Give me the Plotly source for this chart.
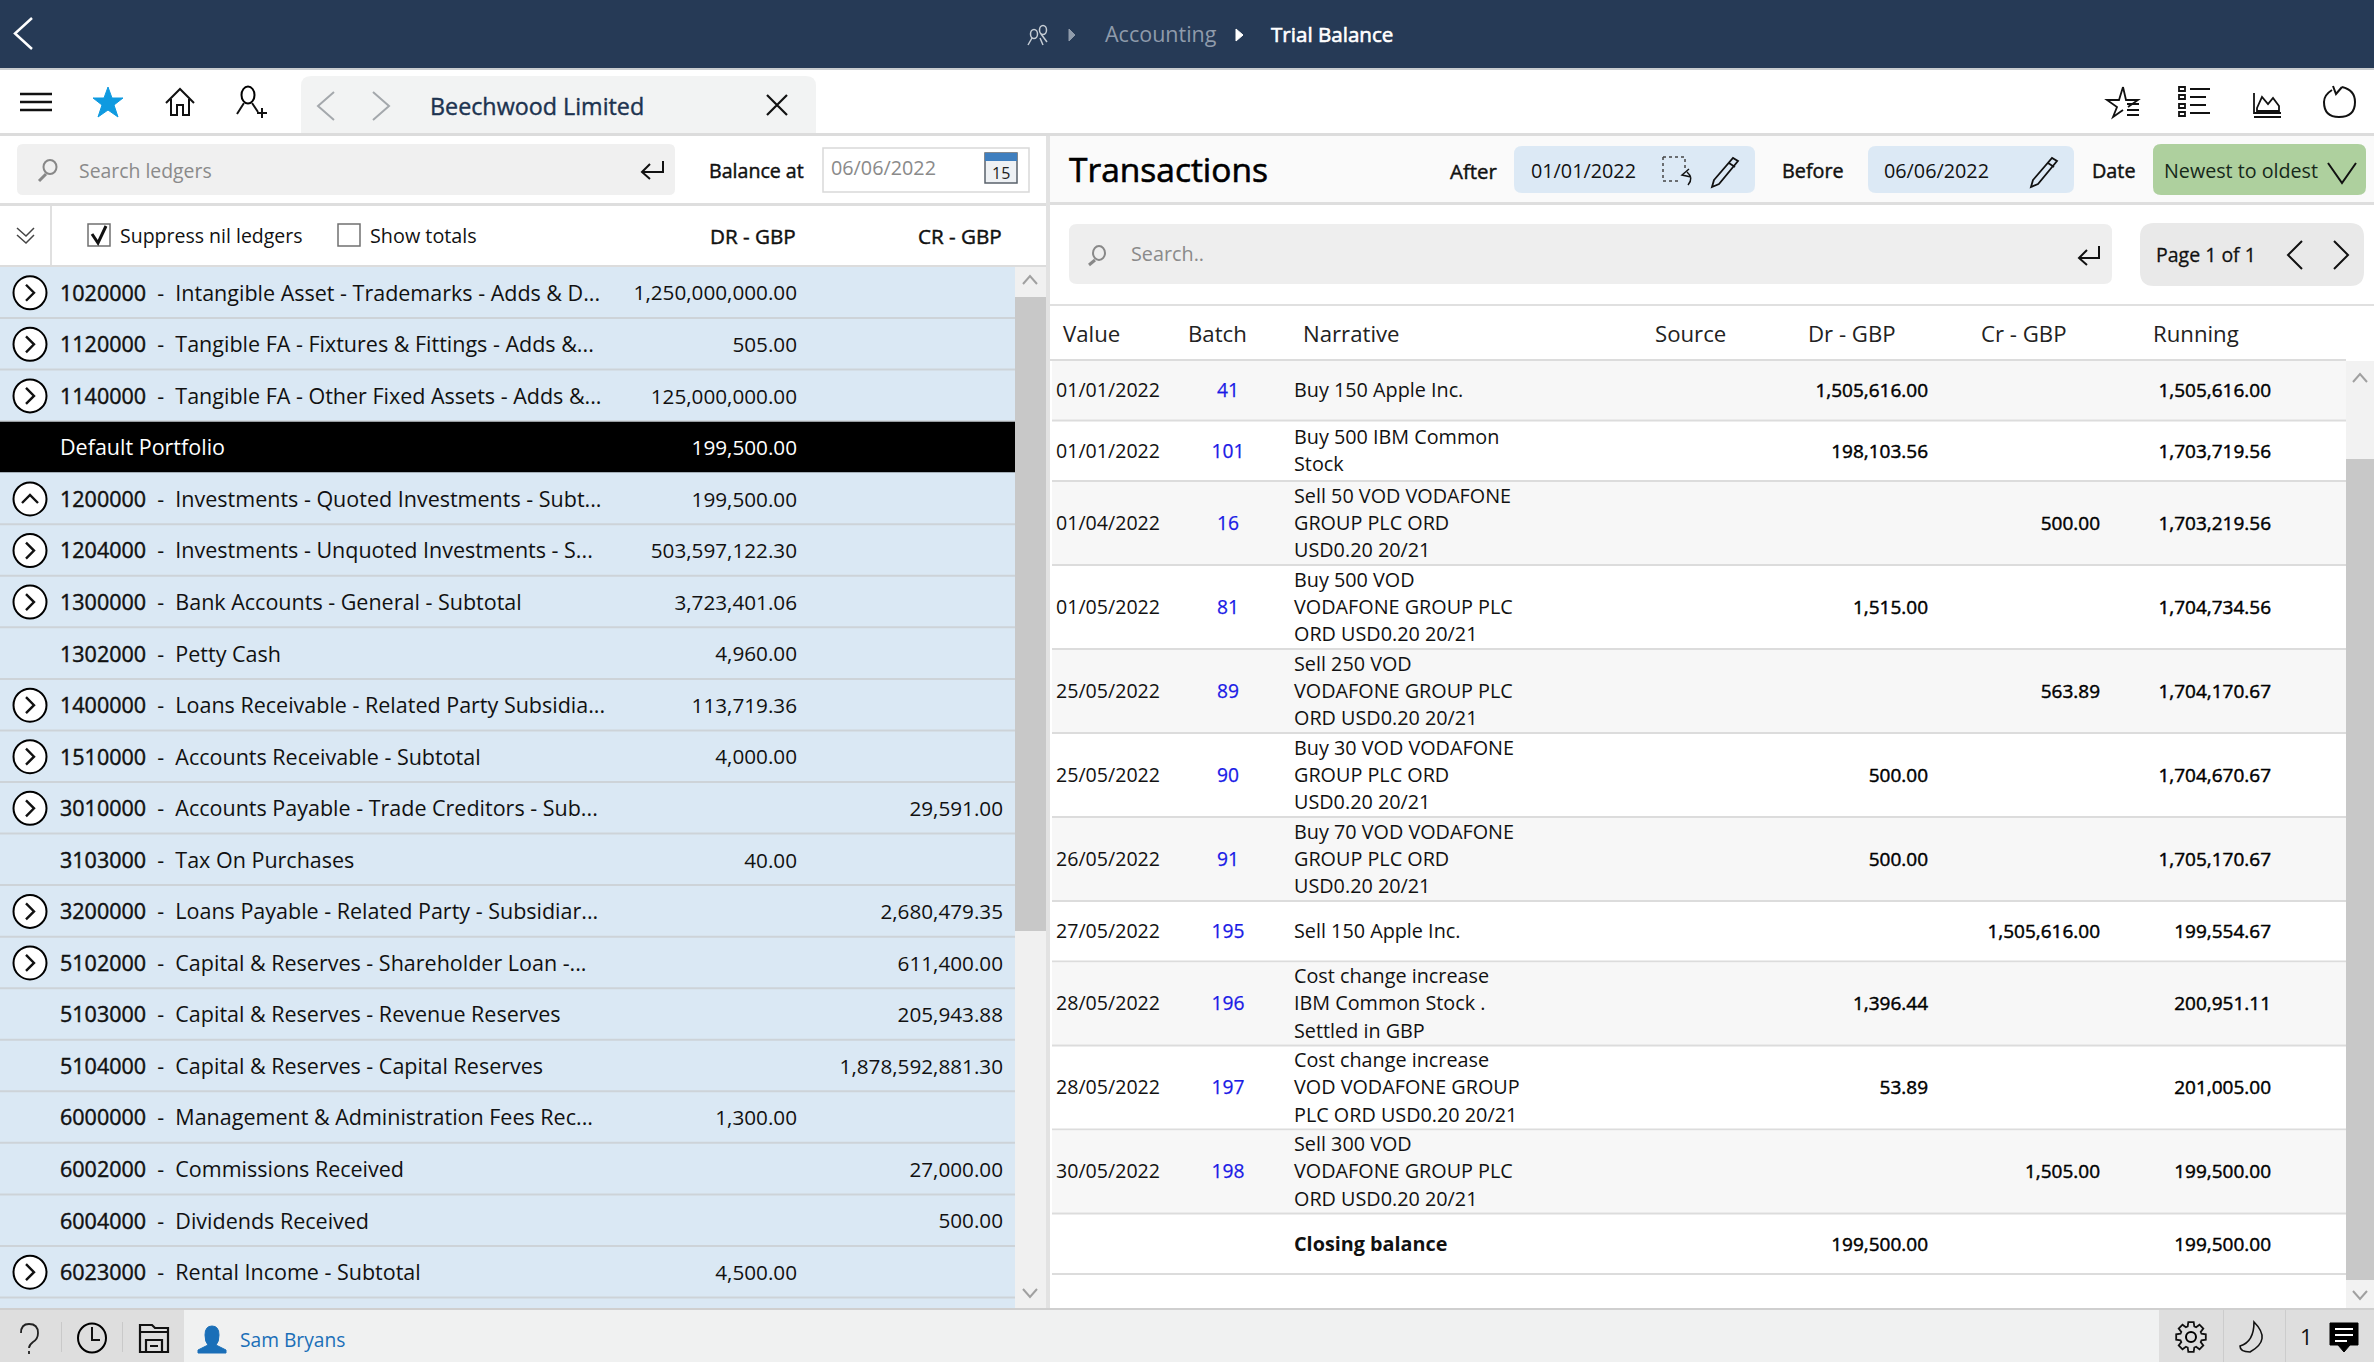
import math
import plotly.graph_objects as go

# ledger list (left panel)
ledger_codes = ["1020000", "1120000", "1140000", "", "1200000", "1204000", "1300000", "1302000", "1400000", "1510000",
                "3010000", "3103000", "3200000", "5102000", "5103000", "5104000", "6000000", "6002000", "6004000", "6023000"]
ledger_names = ["Intangible Asset - Trademarks - Adds & D...", "Tangible FA - Fixtures & Fittings - Adds &...",
                "Tangible FA - Other Fixed Assets - Adds &...", "Default Portfolio",
                "Investments - Quoted Investments - Subt...", "Investments - Unquoted Investments - S...",
                "Bank Accounts - General - Subtotal", "Petty Cash", "Loans Receivable - Related Party Subsidia...",
                "Accounts Receivable - Subtotal", "Accounts Payable - Trade Creditors - Sub...", "Tax On Purchases",
                "Loans Payable - Related Party - Subsidiar...", "Capital & Reserves - Shareholder Loan -...",
                "Capital & Reserves - Revenue Reserves", "Capital & Reserves - Capital Reserves",
                "Management & Administration Fees Rec...", "Commissions Received", "Dividends Received",
                "Rental Income - Subtotal"]
ledger_dr = ["1,250,000,000.00", "505.00", "125,000,000.00", "199,500.00", "199,500.00", "503,597,122.30",
             "3,723,401.06", "4,960.00", "113,719.36", "4,000.00", "", "40.00", "", "", "", "", "1,300.00", "", "", "4,500.00"]
ledger_cr = ["", "", "", "", "", "", "", "", "", "", "29,591.00", "", "2,680,479.35", "611,400.00", "205,943.88",
             "1,878,592,881.30", "", "27,000.00", "500.00", ""]
ledger_icon = [">", ">", ">", "", "^", ">", ">", "", ">", ">", ">", "", ">", ">", "", "", "", "", "", ">"]

# transactions (right panel)
tx_dates = ["01/01/2022", "01/01/2022", "01/04/2022", "01/05/2022", "25/05/2022", "25/05/2022", "26/05/2022",
            "27/05/2022", "28/05/2022", "28/05/2022", "30/05/2022", ""]
tx_batch = ["41", "101", "16", "81", "89", "90", "91", "195", "196", "197", "198", ""]
tx_narrative = [["Buy 150 Apple Inc."], ["Buy 500 IBM Common", "Stock"],
                ["Sell 50 VOD VODAFONE", "GROUP PLC ORD", "USD0.20 20/21"],
                ["Buy 500 VOD", "VODAFONE GROUP PLC", "ORD USD0.20 20/21"],
                ["Sell 250 VOD", "VODAFONE GROUP PLC", "ORD USD0.20 20/21"],
                ["Buy 30 VOD VODAFONE", "GROUP PLC ORD", "USD0.20 20/21"],
                ["Buy 70 VOD VODAFONE", "GROUP PLC ORD", "USD0.20 20/21"],
                ["Sell 150 Apple Inc."],
                ["Cost change increase", "IBM Common Stock .", "Settled in GBP"],
                ["Cost change increase", "VOD VODAFONE GROUP", "PLC ORD USD0.20 20/21"],
                ["Sell 300 VOD", "VODAFONE GROUP PLC", "ORD USD0.20 20/21"],
                ["<b>Closing balance</b>"]]
tx_dr = ["1,505,616.00", "198,103.56", "", "1,515.00", "", "500.00", "500.00", "", "1,396.44", "53.89", "", "199,500.00"]
tx_cr = ["", "", "500.00", "", "563.89", "", "", "1,505,616.00", "", "", "1,505.00", ""]
tx_running = ["1,505,616.00", "1,703,719.56", "1,703,219.56", "1,704,734.56", "1,704,170.67", "1,704,670.67",
              "1,705,170.67", "199,554.67", "200,951.11", "201,005.00", "199,500.00", "199,500.00"]
tx_headers = ["Value", "Batch", "Narrative", "Source", "Dr - GBP", "Cr - GBP", "Running"]

W, H = 2374, 1362
FONT = "Open Sans"
NAVY = "#263a56"
shapes = []
fig = go.Figure()


def semi(t, w=0.45, color="#111111"):
    # fake semibold, Open Sans has no medium weight here
    return f'<span style="stroke:{color};stroke-width:{w}px">{t}</span>' if t else t


def rect(x0, y0, x1, y1, fill, line=None, width=1):
    shapes.append(dict(type="rect", x0=x0, y0=y0, x1=x1, y1=y1, fillcolor=fill, layer="below",
                       line=dict(color=line, width=width) if line else dict(width=0)))


def round_rect(x0, y0, x1, y1, r, fill):
    p = (f"M{x0+r},{y0} H{x1-r} Q{x1},{y0} {x1},{y0+r} V{y1-r} Q{x1},{y1} {x1-r},{y1} "
         f"H{x0+r} Q{x0},{y1} {x0},{y1-r} V{y0+r} Q{x0},{y0} {x0+r},{y0} Z")
    shapes.append(dict(type="path", path=p, fillcolor=fill, layer="below", line=dict(width=0)))


def stroke(p, color="#000000", width=2, fill=None, dash="solid"):
    s = dict(type="path", path=p, line=dict(color=color, width=width, dash=dash), layer="below")
    if fill:
        s["fillcolor"] = fill
    shapes.append(s)


def circle(cx, cy, rx, ry, fill="rgba(0,0,0,0)", color="#000000", width=2):
    shapes.append(dict(type="circle", x0=cx-rx, x1=cx+rx, y0=cy-ry, y1=cy+ry, fillcolor=fill, layer="below",
                       line=dict(color=color, width=width)))


def label(x, y, text, size=20.7, color="#111111", anchor="left"):
    fig.add_annotation(x=x, y=y - 1.5, text=text, xref="x", yref="y", showarrow=False, xanchor=anchor, yanchor="middle",
                       borderpad=0, font=dict(family=FONT, size=size, color=color))


def column(xs, ys, texts, pos, size=20.7, color="#111111"):
    fig.add_trace(go.Scatter(x=xs, y=ys, text=texts, mode="text", textposition=pos, cliponaxis=False,
                             hoverinfo="skip", showlegend=False,
                             textfont=dict(family=FONT, size=size, color=color)))


# ---- page blocks ----
rect(0, 0, W, 68, NAVY)
rect(0, 68, W, 70, "#c9cccf")
rect(0, 133, W, 136, "#dcdcdc")
rect(1050, 136, W, 202, "#fafafa")
rect(0, 203, 1046, 206, "#dedede")
rect(1050, 202, W, 205, "#dedede")
rect(0, 265, 1046, 268, "#dcdcdc")
rect(1046, 136, 1050, 1310, "#e2e2e2")
rect(1050, 304, 2374, 306, "#e0e0e0")

# header bar
stroke("M32,18 L15,33.5 L32,49", "#ffffff", 2.5)
circle(1043, 30, 3.5, 4.5, color="#c5ccd4", width=1.5)
circle(1034, 34, 3.5, 4.5, color="#c5ccd4", width=1.5)
stroke("M1028,45 L1032,38 M1040,38 L1043,45 M1041,34 L1047,42", "#c5ccd4", 1.5)
stroke("M1069,29 L1075,35 L1069,41 Z", "#8f9bab", 1, "#8f9bab")
stroke("M1236,29 L1243,35 L1236,41 Z", "#ffffff", 1, "#ffffff")
label(1104, 35, "Accounting", 21.5, "#8f9bab")
label(1270, 35, semi("Trial Balance", 0.6, "#ffffff"), 20.6, "#ffffff")

# toolbar
stroke("M20,94 H52 M20,102 H52 M20,110 H52", "#111111", 2.5)
stroke("M108,87 L112,98 L123,98 L114,105 L118,117 L108,110 L98,117 L102,105 L93,98 L104,98 Z", "#0f9ae0", 1, "#0f9ae0")
stroke("M166,103 L180,89 L194,103 M171,99 V115 H177 V105 H183 V115 H189 V99", "#111111", 2)
circle(248, 95, 6.5, 8.5)
stroke("M244,103 L237,114 M252,103 L258,112 M257,113 H267 M262,108 V118", "#111111", 2)
round_rect(301, 76, 816, 150, 10, "#f2f3f3")
rect(0, 133, 1046, 136, "#dcdcdc")
rect(0, 136, 1046, 203, "#ffffff")
stroke("M334,92 L318,106 L334,120 M373,92 L389,106 L373,120", "#a4a8ac", 2)
label(429, 107, semi("Beechwood Limited", 0.4, "#1d3350"), 23.3, "#1d3350")
stroke("M767,95 L787,115 M787,95 L767,115", "#111111", 2.2)
stroke("M2123,87 L2126,100 L2138,100 L2128,107 M2123,87 L2119,100 L2107,100 L2117,107 L2113,117 L2123,110 "
       "M2127,104 H2139 M2127,110 H2139 M2127,115 H2139", "#111111", 1.8)
stroke("M2179,87 H2185 V91 H2179 Z M2179,95 H2185 V99 H2179 Z M2179,104 H2185 V108 H2179 Z M2179,112 H2185 V116 H2179 Z "
       "M2190,89 H2210 M2190,97 H2206 M2190,105 H2206 M2190,113 H2210", "#111111", 1.8)
stroke("M2254,93 V113 H2281 M2254,117 H2281 M2257,108 L2262,97 L2268,104 L2273,98 L2279,106 V111 H2257 Z", "#111111", 1.8)
stroke("M2332,90 Q2324,95 2324,102 Q2324,117 2339,117 Q2355,117 2355,102 Q2355,90 2342,87 M2333,86 L2336,94 L2342,87",
       "#111111", 2)

# left search row
round_rect(17, 144, 675, 195, 6, "#f0f0f0")
circle(50, 167, 6.5, 7, color="#888888", width=2)
stroke("M46,174 L39,181", "#888888", 3)
label(78, 171.5, "Search ledgers", 19.4, "#8a8a8a")
stroke("M663,161 V172 H642 M650,164 L642,172 L650,179", "#111111", 2)
label(708, 172, semi("Balance at"), 19.6, "#111111")
rect(823, 148, 1029, 192, "#ffffff", "#d9d9d9", 1.5)
label(830, 169, "06/06/2022", 19.8, "#8a8a8a")
rect(985, 153, 1017, 183, "#eef1f4", "#59626b", 1.5)
rect(985, 153, 1017, 161, "#3f7fbf")
label(1001, 174, "15", 16, "#222222", "center")

# left column header row
stroke("M17,228 L26,236 L34,228 M17,235 L26,243 L34,235", "#444444", 1.5)
rect(50, 206, 52, 265, "#e0e0e0")
rect(88, 224, 110, 246, "#ffffff", "#707070", 1.5)
stroke("M92,234 L98,243 L106,226", "#111111", 3)
label(119, 237, "Suppress nil ledgers", 19.5)
rect(338, 224, 360, 246, "#ffffff", "#707070", 1.5)
label(369, 237, "Show totals", 19.8)
label(797, 237, semi("DR - GBP"), 20.6, "#111111", "right")
label(1003, 237, semi("CR - GBP"), 20.6, "#111111", "right")

# ledger rows
ROW0, ROW_H = 267, 51.55
rect(0, ROW0, 1015, 1309, "#dae8f4")
ledger_y = [ROW0 + ROW_H * (i + 0.5) for i in range(len(ledger_names))]
ledger_txt = []
for i, y in enumerate(ledger_y):
    if ledger_codes[i] == "":
        rect(0, y - ROW_H / 2, 1015, y + ROW_H / 2 - 1, "#000000")
        ledger_txt.append("")
        continue
    rect(0, y + ROW_H / 2 - 1.5, 1015, y + ROW_H / 2 + 0.5, "#cdd3d8")
    ledger_txt.append(semi(ledger_codes[i]) + "  -  " + ledger_names[i])
    if ledger_icon[i]:
        circle(30, y, 16.5, 16.5, "#ffffff")
        if ledger_icon[i] == ">":
            stroke(f"M26,{y-8} L34,{y} L26,{y+8}", "#111111", 2.4)
        else:
            stroke(f"M22,{y+4} L30,{y-4} L38,{y+4}", "#111111", 2.4)

row_text_y = [y + 2.5 for y in ledger_y]
column([60] * len(ledger_y), row_text_y, ledger_txt, "middle right", 21.5)
dark = ledger_codes.index("")
column([60], [row_text_y[dark]], [ledger_names[dark]], "middle right", 21.5, color="#ffffff")
column([797] * len(ledger_y), row_text_y,
       [t if i != dark else "" for i, t in enumerate(ledger_dr)], "middle left")
column([797], [row_text_y[dark]], [ledger_dr[dark]], "middle left", color="#ffffff")
column([1003] * len(ledger_y), row_text_y, ledger_cr, "middle left")

# left scrollbar
rect(1015, 267, 1046, 1309, "#f0f0f0")
rect(1015, 297, 1046, 931, "#c8c8c8")
stroke("M1023,284 L1030,276 L1037,284", "#a0a0a0", 2)
stroke("M1023,1289 L1030,1297 L1037,1289", "#a0a0a0", 2)

# transactions header
label(1068, 170.5, semi("Transactions", 0.6, "#000000"), 33.5, "#000000")
label(1449, 172, semi("After"), 20.4)
round_rect(1514, 146, 1755, 193, 8, "#dce9f5")
label(1530, 172, "01/01/2022", 19.8)
stroke("M1663,157 H1685 V170 M1663,157 V181 H1678", "#444444", 1.5, dash="dot")
stroke("M1688,185 Q1694,178 1687,172 M1689,169 L1682,175 L1691,177", "#111111", 1.5)
stroke("M1714,180 L1733,158 L1738,161 L1719,184 L1712,187 Z M1729,163 L1735,167", "#111111", 1.8)
label(1781, 172, semi("Before"), 19.8)
round_rect(1868, 146, 2074, 193, 8, "#dce9f5")
label(1883, 172, "06/06/2022", 19.8)
stroke("M2033,180 L2052,158 L2057,161 L2038,184 L2031,187 Z M2048,163 L2054,167", "#111111", 1.8)
label(2091, 172, semi("Date"), 19.8)
round_rect(2153, 144, 2366, 195, 8, "#aed09e")
label(2163, 172, "Newest to oldest", 19.7, "#16281a")
stroke("M2328,163 L2342,183 L2356,163", "#111111", 2)

# transactions search
round_rect(1069, 224, 2112, 284, 8, "#eeeeee")
circle(1099, 253, 6, 7, color="#888888", width=2)
stroke("M1095,260 L1089,265", "#888888", 3)
label(1130, 255, "Search..", 19.8, "#8a8a8a")
stroke("M2099,246 V258 H2079 M2087,250 L2079,258 L2087,265", "#111111", 2)
round_rect(2140, 223, 2364, 286, 14, "#e9e9e9")
label(2155, 256, semi("Page 1 of 1", 0.3), 19.5)
stroke("M2302,241 L2288,255 L2302,269 M2334,241 L2348,255 L2334,269", "#111111", 2)

# transactions table
col_x = [1062, 1187, 1302, 1654, 1807, 1980, 2152]
for cx, h in zip(col_x, tx_headers):
    label(cx, 334.5, h, 22.2, "#222222")
rect(1050, 359, 2346, 361, "#dcdcdc")
row_h = [84 if len(n) == 3 else 60.5 for n in tx_narrative]
tx_y = []
edge = 361
for i, rh in enumerate(row_h):
    if i % 2 == 0:
        rect(1052, edge, 2346, edge + rh - 2, "#f7f7f7")
    rect(1052, edge + rh - 2, 2346, edge + rh, "#dcdcdc")
    tx_y.append(edge + rh / 2 - 1)
    edge += rh

n_y = [y + 2 + (j - (len(n) - 1) / 2) * 27.4 for y, n in zip(tx_y, tx_narrative) for j in range(len(n))]
n_txt = [t for n in tx_narrative for t in n]
column([1294] * len(n_y), n_y, n_txt, "middle right", 19.8)
y1 = [y + 2 for y in tx_y]
column([1056] * len(y1), y1, tx_dates, "middle right", 19.6)
column([1228] * len(y1), y1, [semi(t, 0.25, "#1a1ae6") for t in tx_batch], "middle center", 19.2, "#1a1ae6")
column([1928] * len(y1), y1, [semi(t, 0.45, "#000000") for t in tx_dr], "middle left", 19, "#000000")
column([2100] * len(y1), y1, [semi(t, 0.45, "#000000") for t in tx_cr], "middle left", 19, "#000000")
column([2271] * len(y1), y1, [semi(t, 0.45, "#000000") for t in tx_running], "middle left", 19, "#000000")

# right scrollbar
rect(2346, 361, W, 1310, "#f2f2f2")
rect(2346, 459, W, 1280, "#c8c8c8")
stroke("M2353,382 L2360,374 L2367,382", "#a0a0a0", 2)
stroke("M2353,1291 L2360,1299 L2367,1291", "#a0a0a0", 2)

# bottom bar
rect(0, 1309, W, 1362, "#f0f1f1")
rect(0, 1308, W, 1310, "#cfcfcf")
rect(0, 1310, 184, 1362, "#dedede")
rect(2159, 1310, W, 1362, "#dedede")
rect(2223, 1310, 2224, 1362, "#cccccc")
rect(2285, 1310, 2286, 1362, "#cccccc")
stroke("M21,1333 Q21,1324 29,1324 Q38,1324 38,1333 Q38,1339 33,1342 Q29,1345 29,1348 M29,1351 V1354", "#222222", 1.8)
rect(61, 1322, 62, 1352, "#c9c9c9")
rect(122, 1322, 123, 1352, "#c9c9c9")
circle(92, 1338, 14, 14.5)
stroke("M92,1327 V1340 H100", "#111111", 2)
stroke("M140,1325 H152 L155,1328 H168 V1352 H140 Z M146,1352 V1340 H162 V1352 M150,1346 H158 M140,1332 H168",
       "#111111", 2.2)
stroke("M212,1326 Q219,1326 219,1335 Q219,1342 216,1345 L226,1350 V1353 H198 V1350 L208,1345 Q205,1342 205,1335 Q205,1326 212,1326 Z",
       "#1a6fb8", 1, "#1a6fb8")
label(239, 1341, "Sam Bryans", 19.2, "#1a6fb8")
circle(2191, 1337, 5, 5)
gear = []
for k in range(8):
    a = k * math.pi / 4
    for da, r in [(-0.3, 11), (-0.18, 15), (0.18, 15), (0.3, 11)]:
        gear.append(f"{2191 + r * math.sin(a + da):.1f},{1337 - r * math.cos(a + da):.1f}")
stroke("M" + " L".join(gear) + " Z", "#111111", 1.8)
stroke("M2254,1322 Q2272,1340 2250,1352 Q2240,1352 2240,1346 Q2254,1342 2254,1322 Z", "#111111", 1.6)
label(2306, 1337, "1", 22, "#111111", "center")
stroke("M2330,1323 H2358 V1345 H2350 L2344,1352 L2338,1345 H2330 Z", "#000000", 1, "#000000")
stroke("M2335,1329 H2353 M2335,1335 H2353 M2335,1341 H2347", "#ffffff", 2)

fig.update_layout(
    width=W, height=H, margin=dict(l=0, r=0, t=0, b=0), paper_bgcolor="#ffffff", plot_bgcolor="#ffffff",
    showlegend=False, shapes=shapes,
    xaxis=dict(range=[0, W], visible=False, fixedrange=True),
    yaxis=dict(range=[H, 0], visible=False, fixedrange=True),
)
fig.write_html("out.html", config=dict(displayModeBar=False),
               post_script="document.body.style.margin='0';")
